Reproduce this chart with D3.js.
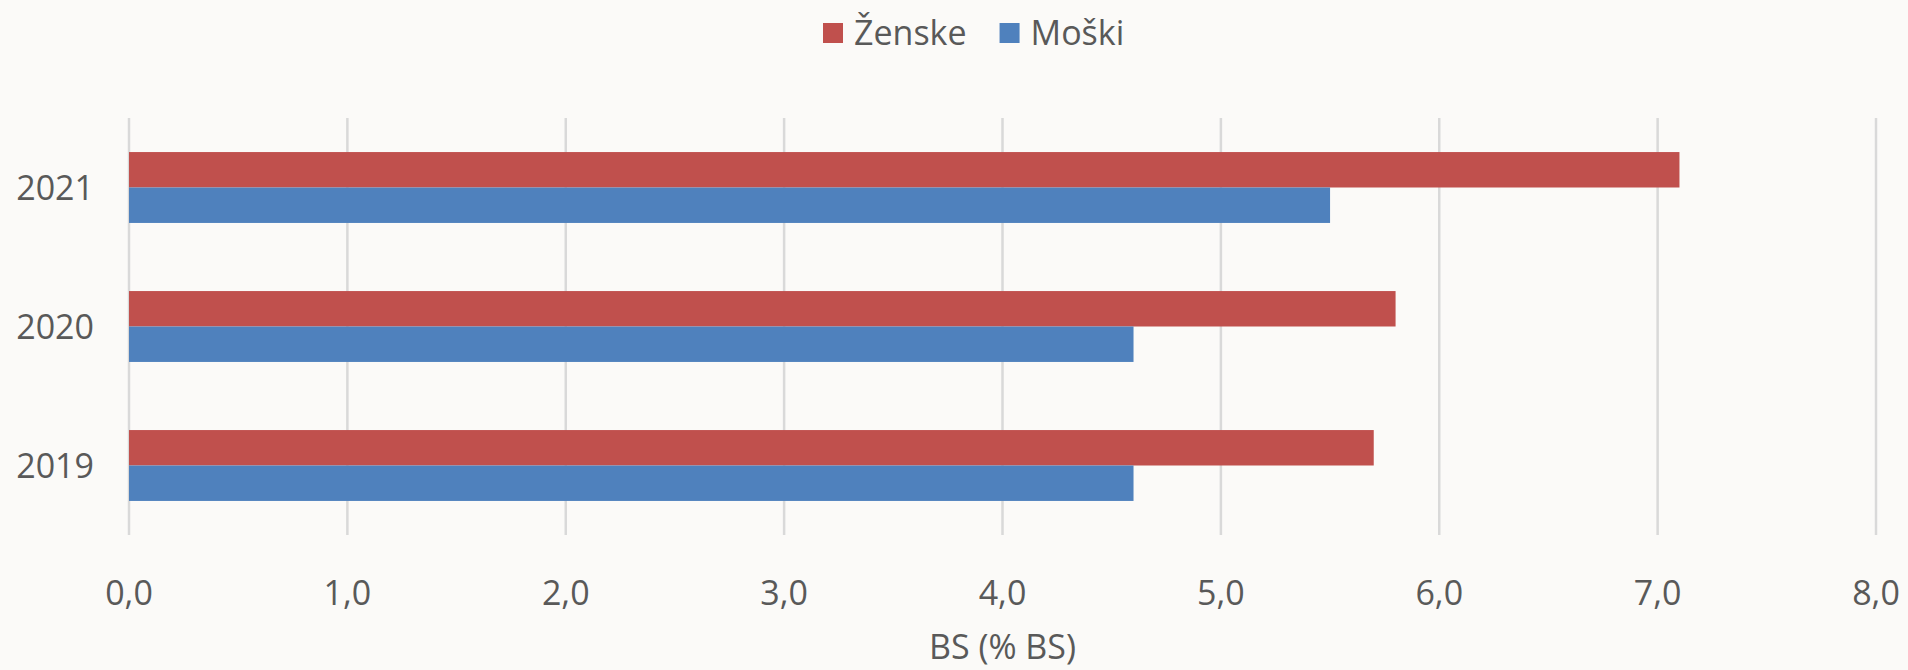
<!DOCTYPE html>
<html>
<head>
<meta charset="utf-8">
<script src="https://cdn.jsdelivr.net/npm/d3@7"></script>
<style>
  html, body { margin: 0; padding: 0; background: #fbfaf8; }
  svg { display: block; font-family: "Open Sans", sans-serif; }
</style>
</head>
<body>
<svg id="chart" width="1908" height="670"></svg>
<script>
// data
const years = ["2021", "2020", "2019"];
const zenske = [7.1, 5.8, 5.7];
const moski = [5.5, 4.6, 4.6];
const seriesNames = ["Ženske", "Moški"];
const seriesColors = ["#c0504d", "#4f81bd"];
const xTicks = [0, 1, 2, 3, 4, 5, 6, 7, 8];
const xTitle = "BS (% BS)";

const svg = d3.select("#chart");
const margin = { top: 118, left: 129, right: 1908 - 1876, bottom: 670 - 535 };
const width = 1908, height = 670;

const x = d3.scaleLinear()
  .domain([0, 8])
  .range([margin.left, width - margin.right]);

const y = d3.scaleBand()
  .domain(years)
  .range([margin.top, height - margin.bottom])
  .paddingInner(0.49)
  .paddingOuter(0.245);

const sub = d3.scaleBand()
  .domain(seriesNames)
  .range([0, y.bandwidth()]);

// gridlines
svg.append("g")
  .selectAll("line")
  .data(xTicks)
  .enter()
  .append("line")
  .attr("x1", d => x(d))
  .attr("x2", d => x(d))
  .attr("y1", margin.top)
  .attr("y2", height - margin.bottom)
  .attr("stroke", "#d9d9d9")
  .attr("stroke-width", 2.5);

// bars
const values = [zenske, moski];
seriesNames.forEach((name, s) => {
  svg.append("g")
    .selectAll("rect")
    .data(years)
    .enter()
    .append("rect")
    .attr("x", x(0))
    .attr("y", d => y(d) + sub(name))
    .attr("width", (d, i) => x(values[s][i]) - x(0))
    .attr("height", sub.bandwidth())
    .attr("fill", seriesColors[s]);
});

// x tick labels
svg.append("g")
  .selectAll("text")
  .data(xTicks)
  .enter()
  .append("text")
  .attr("x", d => x(d))
  .attr("y", 605)
  .attr("text-anchor", "middle")
  .attr("font-size", "34px")
  .attr("fill", "#595959")
  .text(d => d3.format(".1f")(d).replace(".", ","));

// y labels
svg.append("g")
  .selectAll("text")
  .data(years)
  .enter()
  .append("text")
  .attr("x", 94)
  .attr("y", d => y(d) + y.bandwidth() / 2)
  .attr("dy", "0.36em")
  .attr("text-anchor", "end")
  .attr("font-size", "34px")
  .attr("fill", "#595959")
  .text(d => d);

// axis title
svg.append("text")
  .attr("x", (x(0) + x(8)) / 2)
  .attr("y", 659)
  .attr("text-anchor", "middle")
  .attr("font-size", "34px")
  .attr("fill", "#595959")
  .text(xTitle);

// legend
const legend = svg.append("g");
let lx = 823;
seriesNames.forEach((name, i) => {
  legend.append("rect")
    .attr("x", lx)
    .attr("y", 23)
    .attr("width", 20)
    .attr("height", 20)
    .attr("fill", seriesColors[i]);
  const t = legend.append("text")
    .attr("x", lx + 31)
    .attr("y", 45)
    .attr("font-size", "34px")
    .attr("fill", "#595959")
    .text(name);
  lx += 31 + t.node().getComputedTextLength() + 33;
});
</script>
</body>
</html>
